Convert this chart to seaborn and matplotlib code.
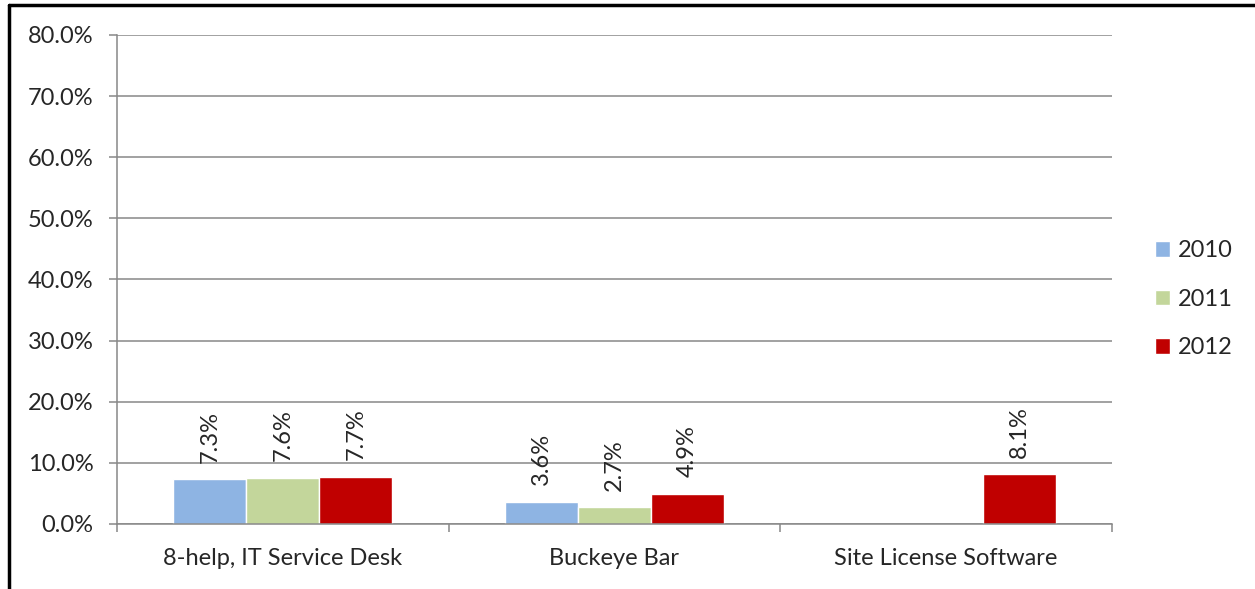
import pandas as pd
import matplotlib.pyplot as plt
import seaborn as sns
from matplotlib.lines import Line2D
from matplotlib.ticker import FuncFormatter, FixedLocator

# values (percent)
categories = ["8-help, IT Service Desk", "Buckeye Bar", "Site License Software"]
years = ["2010", "2011", "2012"]
values_2010 = [7.3, 3.6, None]
values_2011 = [7.6, 2.7, None]
values_2012 = [7.7, 4.9, 8.1]
colors = ["#8EB4E3", "#C3D69B", "#C00000"]

rows = []
for year, vals in zip(years, [values_2010, values_2011, values_2012]):
    for cat, v in zip(categories, vals):
        if v is not None:
            rows.append({"category": cat, "year": year, "value": v})
df = pd.DataFrame(rows)

sns.set_style("white")
plt.rcParams["font.family"] = ["Lato", "DejaVu Sans"]
FS = 17

fig = plt.figure(figsize=(12.55, 5.89), dpi=100)
ax = fig.add_axes([0.0932, 0.1104, 0.7928, 0.8302])

sns.barplot(data=df, x="category", y="value", hue="year", order=categories,
            hue_order=years, palette=colors, width=0.66, gap=0,
            saturation=1, errorbar=None, ax=ax)

for c in ax.containers:
    ax.bar_label(c, fmt="%.1f%%", rotation=90, padding=12, fontsize=FS)

ax.set_ylim(0, 80)
ax.set_xlim(-0.5, 2.5)
ax.set_yticks(range(0, 81, 10))
ax.yaxis.set_major_formatter(FuncFormatter(lambda v, p: f"{v:.1f}%"))
ax.grid(axis="y", color="#888888", linewidth=1.1)
ax.set_axisbelow(True)
ax.set_xlabel("")
ax.set_ylabel("")

for s in ["top", "right"]:
    ax.spines[s].set_visible(False)
for s in ["left", "bottom"]:
    ax.spines[s].set_color("#888888")
    ax.spines[s].set_linewidth(1.1)

ax.tick_params(axis="y", which="major", length=6, width=1.1, color="#888888",
               direction="out", pad=11, labelsize=FS, left=True)
ax.tick_params(axis="x", which="major", length=0, pad=17, labelsize=FS)
ax.xaxis.set_minor_locator(FixedLocator([-0.5, 0.5, 1.5, 2.5]))
ax.tick_params(axis="x", which="minor", length=6, width=1.1, color="#888888",
               direction="out", bottom=True)

handles = ax.get_legend_handles_labels()
ax.legend(handles[0], handles[1], loc="center left",
          bbox_to_anchor=(0.920, 0.492), bbox_transform=fig.transFigure,
          frameon=False, fontsize=FS, handlelength=0.65, handleheight=0.65,
          handletextpad=0.35, labelspacing=1.17, borderpad=0, borderaxespad=0)

# outer frame (top and left edges only)
fig.add_artist(Line2D([0.0072, 1.0], [0.9915, 0.9915], color="black", linewidth=2.5,
                      transform=fig.transFigure))
fig.add_artist(Line2D([0.0072, 0.0072], [0.0, 0.9915], color="black", linewidth=2.5,
                      transform=fig.transFigure))

plt.savefig("out.png", dpi=100)
